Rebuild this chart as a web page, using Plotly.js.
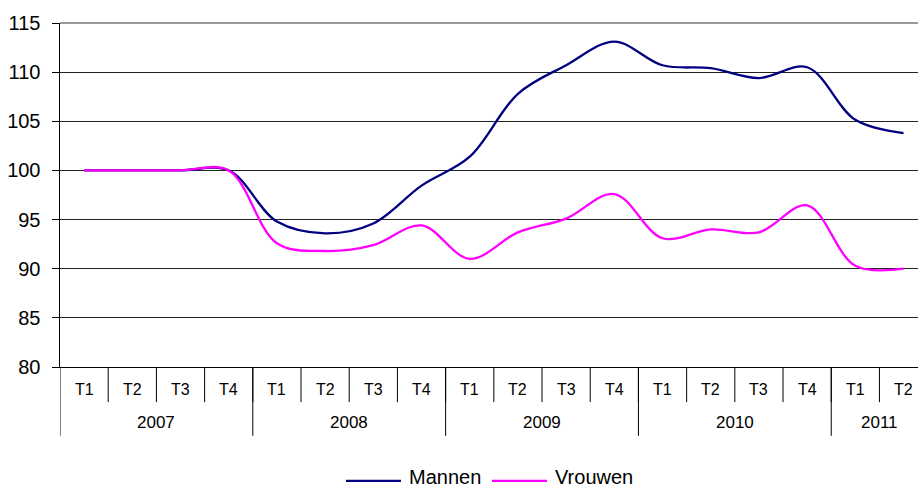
<!DOCTYPE html>
<html>
<head>
<meta charset="utf-8">
<script src="https://cdn.plot.ly/plotly-3.0.1.min.js"></script>
<style>html,body{margin:0;padding:0;background:#fff;}#chart{width:918px;height:489px;}</style>
</head>
<body>
<div id="chart"></div>
<script>
// Data
const years = ['2007', '2008', '2009', '2010', '2011'];
const quartersPerYear = [4, 4, 4, 4, 2];
const quarterNames = ['T1', 'T2', 'T3', 'T4'];
const mannen = [100, 100, 100, 100, 94.8, 93.6, 94.6, 98.45, 101.4, 107.8, 110.7, 113.1, 110.7, 110.4, 109.4, 110.5, 105.15, 103.8];
const vrouwen = [100, 100, 100, 100, 92.6, 91.8, 92.4, 94.4, 91.0, 93.7, 95.1, 97.6, 93.1, 94.0, 93.7, 96.45, 90.3, 90.0];
const seriesNames = ['Mannen', 'Vrouwen'];

// Build category labels
const periods = [], quarterLabels = [], yearStart = [];
years.forEach((y, i) => {
  yearStart.push(periods.length);
  for (let q = 0; q < quartersPerYear[i]; q++) {
    periods.push(y + ' ' + quarterNames[q]);
    quarterLabels.push(quarterNames[q]);
  }
});

const FONT = 'Liberation Sans, Arial, sans-serif';
const colors = ['#000080', '#FF00FF'];

const traces = [mannen, vrouwen].map((vals, i) => ({
  x: periods, y: vals, type: 'scatter', mode: 'lines', name: seriesNames[i],
  line: {color: colors[i], width: 2.3, shape: 'spline', smoothing: 1},
  showlegend: false, hoverinfo: 'skip'
}));

const shapes = [];
const annotations = [];
// quarter dividers & labels
periods.forEach((p, k) => {
  if (k > 0) shapes.push({type: 'line', xref: 'x', yref: 'paper', x0: k - 0.5, x1: k - 0.5, y0: 0, y1: -0.102, line: {color: '#000', width: 1}});
  annotations.push({xref: 'x', yref: 'paper', x: k, y: -0.064, text: quarterLabels[k], showarrow: false, xanchor: 'center', yanchor: 'middle', font: {family: FONT, size: 16, color: '#000'}});
});
// year dividers & labels
years.forEach((y, i) => {
  const s = yearStart[i];
  shapes.push({type: 'line', xref: 'x', yref: 'paper', x0: s - 0.5, x1: s - 0.5, y0: 0, y1: -0.2, line: {color: '#000', width: 1}});
  annotations.push({xref: 'x', yref: 'paper', x: s + (quartersPerYear[i] - 1) / 2, y: -0.16, text: y, showarrow: false, xanchor: 'center', yanchor: 'middle', font: {family: FONT, size: 17, color: '#000'}});
});
// top border
shapes.push({type: 'line', xref: 'paper', yref: 'paper', x0: 0, x1: 1, y0: 1, y1: 1, line: {color: '#9a9a9a', width: 2}});
// manual legend
const legX = [[0.3333, 0.3974, 0.4044], [0.5035, 0.5676, 0.5746]];
seriesNames.forEach((n, i) => {
  shapes.push({type: 'line', xref: 'paper', yref: 'paper', x0: legX[i][0], x1: legX[i][1], y0: -0.331, y1: -0.331, line: {color: colors[i], width: 2.3}});
  annotations.push({xref: 'paper', yref: 'paper', x: legX[i][2], y: -0.321, text: n, showarrow: false, xanchor: 'left', yanchor: 'middle', font: {family: FONT, size: 20, color: '#000'}});
});

const layout = {
  width: 918, height: 489,
  margin: {l: 60, r: 0, t: 23, b: 122, pad: 0},
  paper_bgcolor: '#fff', plot_bgcolor: '#fff',
  showlegend: false,
  xaxis: {
    type: 'category', range: [-0.5, 17.3], showticklabels: false, ticks: '',
    showgrid: false, zeroline: false, showline: true, linecolor: '#000', linewidth: 1,
    fixedrange: true
  },
  yaxis: {
    range: [80, 115], dtick: 5, tick0: 80, ticks: 'outside', ticklen: 7, tickcolor: '#000', tickwidth: 1,
    showgrid: true, gridcolor: '#222', gridwidth: 1, zeroline: false,
    showline: true, linecolor: '#000', linewidth: 1.5,
    ticklabelstandoff: 7,
    tickfont: {family: FONT, size: 20, color: '#000'}, fixedrange: true
  },
  shapes: shapes,
  annotations: annotations
};

Plotly.newPlot('chart', traces, layout, {displayModeBar: false, staticPlot: true});
</script>
</body>
</html>
